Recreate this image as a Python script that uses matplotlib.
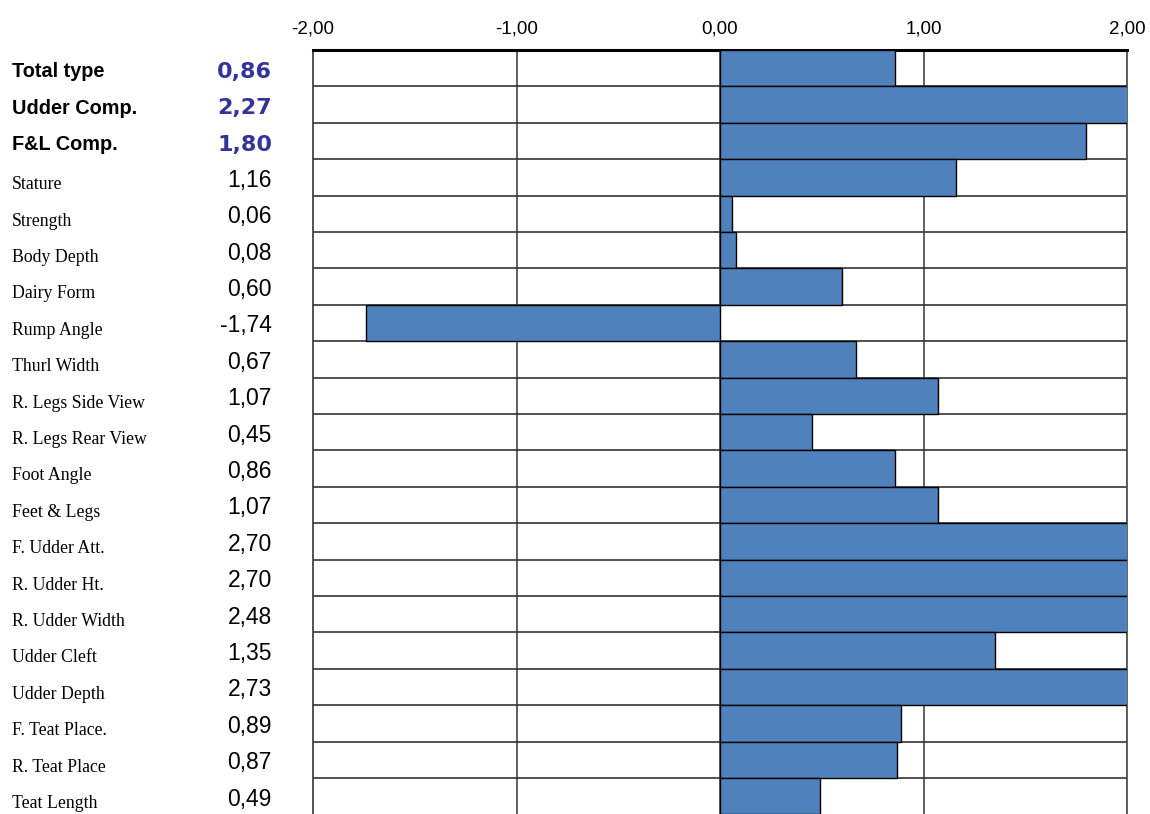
import matplotlib.pyplot as plt
from matplotlib.transforms import blended_transform_factory

# traits and their values (first three are composites, shown in bold)
traits = ['Total type', 'Udder Comp.', 'F&L Comp.', 'Stature', 'Strength',
          'Body Depth', 'Dairy Form', 'Rump Angle', 'Thurl Width',
          'R. Legs Side View', 'R. Legs Rear View', 'Foot Angle',
          'Feet & Legs', 'F. Udder Att.', 'R. Udder Ht.', 'R. Udder Width',
          'Udder Cleft', 'Udder Depth', 'F. Teat Place.', 'R. Teat Place',
          'Teat Length']
values = [0.86, 2.27, 1.80, 1.16, 0.06, 0.08, 0.60, -1.74, 0.67, 1.07,
          0.45, 0.86, 1.07, 2.70, 2.70, 2.48, 1.35, 2.73, 0.89, 0.87, 0.49]
n_bold = 3
ticks = [-2, -1, 0, 1, 2]

fig = plt.figure(figsize=(11.5, 8.14), dpi=100)
ax = fig.add_axes([313 / 1150, 0.0, 814 / 1150, 1 - 50 / 814])

y = list(range(len(traits)))
ax.barh(y, values, height=1.0, color='#4F81BD', edgecolor='black',
        linewidth=1.0, zorder=3)

ax.set_xlim(-2, 2)
ax.set_ylim(len(traits) - 0.51, -0.5)

# vertical grid lines and row separators
for t in ticks[1:]:
    ax.axvline(t, color='#555555', lw=1.3, zorder=1)
for i in range(1, len(traits)):
    ax.axhline(i - 0.5, color='#333333', lw=1.2, zorder=2)

ax.xaxis.tick_top()
ax.set_xticks(ticks)
ax.set_xticklabels(['{:.2f}'.format(t).replace('.', ',') for t in ticks],
                   fontsize=13.5, family='Liberation Sans')
ax.tick_params(axis='x', length=0, pad=9)
ax.set_yticks([])

ax.spines['bottom'].set_visible(False)
ax.spines['top'].set_linewidth(2.2)
ax.spines['left'].set_linewidth(1.3)
ax.spines['left'].set_color('#444444')
ax.spines['right'].set_linewidth(1.3)
ax.spines['right'].set_color('#555555')

tr = blended_transform_factory(fig.transFigure, ax.transData)
for i, (name, v) in enumerate(zip(traits, values)):
    txt = '{:.2f}'.format(v).replace('.', ',')
    if i < n_bold:
        ax.text(12 / 1150, i + 0.1, name, transform=tr, ha='left', va='center',
                fontsize=14.3, fontweight='bold', family='Liberation Sans')
        ax.text(272 / 1150, i + 0.1, txt, transform=tr, ha='right', va='center',
                fontsize=16, fontweight='bold', family='DejaVu Sans',
                color='#333399')
    else:
        ax.text(12 / 1150, i + 0.2, name, transform=tr, ha='left', va='center',
                fontsize=12.8, family='Liberation Serif')
        ax.text(272 / 1150, i + 0.08, txt, transform=tr, ha='right', va='center',
                fontsize=16.5, family='Liberation Sans')

fig.savefig('out.png', dpi=100)
